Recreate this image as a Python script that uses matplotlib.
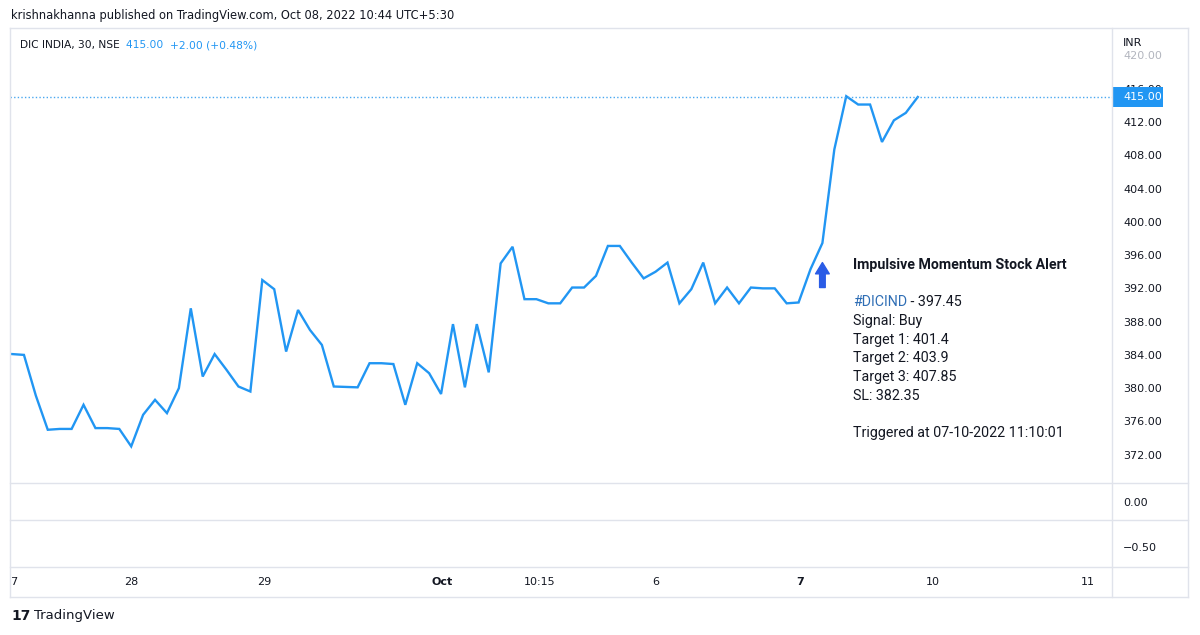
import matplotlib
matplotlib.use('Agg')
import matplotlib.pyplot as plt
from matplotlib.lines import Line2D
from matplotlib.patches import Rectangle
from matplotlib.transforms import blended_transform_factory

# 30 min closes, DIC INDIA (NSE)
close = [384.1, 384.0, 379.1, 375.0, 375.1, 375.1, 378.0, 375.2, 375.2, 375.1,
         373.0, 376.8, 378.6, 377.0, 380.0, 389.6, 381.4, 384.1, 382.2, 380.2,
         379.6, 393.0, 391.9, 384.4, 389.4, 387.0, 385.2, 380.2, 380.15, 380.1,
         383.0, 383.0, 382.9, 378.0, 383.0, 381.8, 379.3, 387.7, 380.1, 387.7,
         381.9, 395.0, 397.0, 390.7, 390.7, 390.2, 390.2, 392.1, 392.1, 393.5,
         397.1, 397.1, 395.1, 393.2, 394.0, 395.1, 390.2, 391.9, 395.1, 390.2,
         392.1, 390.2, 392.1, 392.0, 392.0, 390.2, 390.3, 394.3, 397.45, 408.7,
         415.1, 414.1, 414.1, 409.6, 412.2, 413.1, 415.0]
bars = list(range(len(close)))

price_ticks = [372, 376, 380, 384, 388, 392, 396, 400, 404, 408, 412, 416, 420]
time_labels = ['27', '28', '29', 'Oct', '10:15', '6', '7', '10', '11']
time_bold = ['Oct', '7']
time_pos = [-0.1, 10, 21.2, 36.1, 44.3, 54, 66.1, 77.3, 90.3]

last_price = 415.00
change_text = '+2.00 (+0.48%)'
signal_bar = 68
alert_title = 'Impulsive Momentum Stock Alert'
alert_tag = '#DICIND'
alert_price = 397.45
alert_lines = ['Signal: Buy', 'Target 1: 401.4', 'Target 2: 403.9',
               'Target 3: 407.85', 'SL: 382.35', '',
               'Triggered at 07-10-2022 11:10:01']
header = 'krishnakhanna published on TradingView.com, Oct 08, 2022 10:44 UTC+5:30'
symbol = 'DIC INDIA, 30, NSE'

BLUE = '#2196f3'
TXT = '#131722'
BORDER = '#e0e3eb'
W, H = 1200, 635

plt.rcParams['font.family'] = ['DejaVu Sans']


def fx(px):
    return px / W


def fy(py):
    return 1 - py / H


def chain(fig, parts, x, y, **kw):
    # put coloured text pieces one after another on a line
    r = fig.canvas.get_renderer()
    for s, c, w in parts:
        t = fig.text(fx(x), fy(y), s, color=c, weight=w, va='center', **kw)
        bb = t.get_window_extent(renderer=r)
        x = bb.x1


fig = plt.figure(figsize=(12, 6.35), dpi=100)

ax = fig.add_axes([fx(10), fy(483), fx(1112) - fx(10), fy(30) - fy(483)])
ax2 = fig.add_axes([fx(10), fy(520), fx(1112) - fx(10), fy(483) - fy(520)])
ax3 = fig.add_axes([fx(10), fy(567), fx(1112) - fx(10), fy(520) - fy(567)])
axt = fig.add_axes([fx(10), fy(597), fx(1112) - fx(10), fy(567) - fy(597)])

for a in (ax, ax2, ax3, axt):
    for s in a.spines.values():
        s.set_visible(False)
    a.set_xlim(-0.17, 92.3)
    a.set_xticks([])

ax.plot(bars, close, color=BLUE, lw=1.7, solid_joinstyle='miter')
ax.axhline(last_price, color='#4aa8f0', ls=(0, (1, 1.6)), lw=1.0)
ax.set_ylim(368.6, 423.06)
ax.yaxis.tick_right()
ax.set_yticks(price_ticks, ['%.2f' % v for v in price_ticks])
ax.tick_params(axis='y', length=0, pad=8, labelsize=8, labelcolor=TXT)
for lab in ax.get_yticklabels():
    lab.set_horizontalalignment('left')
ax.get_yticklabels()[-1].set_color('#b2b5be')

# signal arrow under the alert bar
ax.annotate('', xy=(signal_bar, 395.1), xytext=(signal_bar, 392.1),
            arrowprops=dict(arrowstyle='simple,head_width=1.1,head_length=0.9,tail_width=0.45',
                            color='#2a5ce6', shrinkA=0, shrinkB=0, mutation_scale=9))

# last price label on the price scale
tr = blended_transform_factory(fig.transFigure, ax.transData)
ax.add_patch(Rectangle((fx(1112), last_price - 1.15), 51 / W, 2.3, transform=tr,
                       facecolor=BLUE, edgecolor='none', clip_on=False, zorder=5))
ax.text(fx(1123), last_price, '%.2f' % last_price, transform=tr, color='white',
        fontsize=8, va='center', ha='left', zorder=6, clip_on=False)

ax2.set_ylim(-1, 1)
ax2.yaxis.tick_right()
ax2.set_yticks([0], ['0.00'])
ax2.tick_params(axis='y', length=0, pad=8, labelsize=8, labelcolor=TXT)

ax3.set_ylim(-1, 0.175)
ax3.yaxis.tick_right()
ax3.set_yticks([-0.5], ['\u22120.50'])
ax3.tick_params(axis='y', length=0, pad=8, labelsize=8, labelcolor=TXT)

axt.set_ylim(0, 1)
axt.set_yticks([])
for p, lab in zip(time_pos, time_labels):
    axt.text(p, 0.5, lab, ha='center', va='center', fontsize=8, color=TXT,
             weight='bold' if lab in time_bold else 'normal', clip_on=True)

# panel borders
lines = [((10, 1188), (28, 28)), ((10, 1188), (597, 597)),
         ((10, 10), (28, 597)), ((1188, 1188), (28, 597)),
         ((1112, 1112), (28, 597)),
         ((10, 1188), (483, 483)), ((10, 1188), (520, 520)), ((10, 1188), (567, 567))]
for xs, ys in lines:
    fig.add_artist(Line2D([fx(v) for v in xs], [fy(v) for v in ys],
                          color=BORDER, lw=1, transform=fig.transFigure))

fig.text(fx(1123), fy(43), 'INR', fontsize=8, color=TXT, va='center',
         bbox=dict(facecolor='white', edgecolor='none', pad=2.5))

fig.text(fx(11), fy(15), header, fontsize=8.3, color=TXT, va='center')
chain(fig, [(symbol + '  ', TXT, 'normal'), ('%.2f  ' % last_price, BLUE, 'normal'),
            (change_text, BLUE, 'normal')], 20, 45, fontsize=7.7)

# alert text
fig.text(fx(853), fy(265), alert_title, fontsize=10.2, color=TXT, va='center',
         family='Roboto', weight='bold')
chain(fig, [(alert_tag, '#2f6eb5', 'normal'), (' - %.2f' % alert_price, TXT, 'normal')],
      853, 302, fontsize=10.3, family='Roboto')
for i, s in enumerate(alert_lines):
    fig.text(fx(853), fy(321 + i * 18.7), s, fontsize=10.3, color=TXT, va='center',
             family='Roboto')

# footer logo
fig.text(fx(11), fy(616), '17', fontsize=10, color=TXT, va='center', weight='heavy')
fig.text(fx(34), fy(616), 'TradingView', fontsize=9.5, color=TXT, va='center')

fig.savefig('out.png', dpi=100)
